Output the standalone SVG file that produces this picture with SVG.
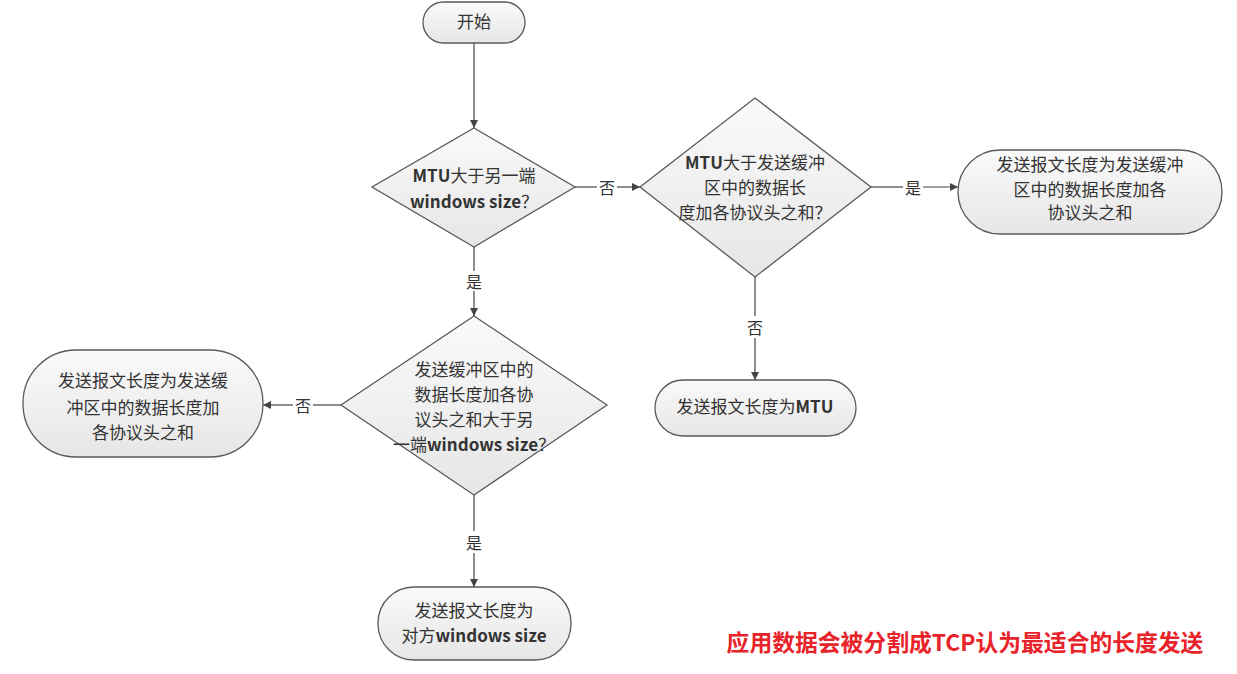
<svg xmlns="http://www.w3.org/2000/svg" width="1237" height="674" viewBox="0 0 1237 674">
<style>
.node{fill:url(#g);stroke:#5a5a5a;stroke-width:1.3}
.t{font-family:"Noto Sans CJK SC","Noto Sans",sans-serif;font-size:17px;fill:#333;text-anchor:middle}
.b{font-weight:bold}
.lbl{font-family:"Noto Sans CJK SC","Noto Sans",sans-serif;font-size:16px;fill:#333;text-anchor:middle;dominant-baseline:central}
.c{stroke:#444;stroke-width:1.2;fill:none}
</style>
<defs>
<linearGradient id="g" x1="0" y1="0" x2="0" y2="1">
<stop offset="0" stop-color="#fafafa"/>
<stop offset="1" stop-color="#e6e6e6"/>
</linearGradient>
<marker id="a" viewBox="0 0 10 10" refX="10" refY="5" markerWidth="8" markerHeight="8" markerUnits="userSpaceOnUse" orient="auto">
<path d="M0,0 L10,5 L0,10 z" fill="#444"/>
</marker>
</defs>
<rect width="1237" height="674" fill="#fff"/>
<g id="connectors">
<line class="c" x1="474" y1="43" x2="474" y2="128" marker-end="url(#a)"/>
<line class="c" x1="575" y1="187" x2="597" y2="187"/>
<line class="c" x1="617" y1="187" x2="640" y2="187" marker-end="url(#a)"/>
<text class="lbl" x="607" y="187">否</text>
<line class="c" x1="871" y1="187" x2="903" y2="187"/>
<line class="c" x1="923" y1="187" x2="958" y2="187" marker-end="url(#a)"/>
<text class="lbl" x="913" y="187">是</text>
<line class="c" x1="755" y1="277" x2="755" y2="316"/>
<line class="c" x1="755" y1="338" x2="755" y2="380" marker-end="url(#a)"/>
<text class="lbl" x="755" y="327">否</text>
<line class="c" x1="474" y1="247" x2="474" y2="271"/>
<line class="c" x1="474" y1="291" x2="474" y2="316" marker-end="url(#a)"/>
<text class="lbl" x="474" y="281">是</text>
<line class="c" x1="341" y1="405" x2="313" y2="405"/>
<line class="c" x1="293" y1="405" x2="263" y2="405" marker-end="url(#a)"/>
<text class="lbl" x="303" y="405">否</text>
<line class="c" x1="474" y1="495" x2="474" y2="531"/>
<line class="c" x1="474" y1="553" x2="474" y2="587" marker-end="url(#a)"/>
<text class="lbl" x="474" y="542">是</text>
</g>
<g id="start">
<rect class="node" x="423" y="2" width="102" height="41" rx="20.5"/>
<text class="t" x="474" y="28">开始</text>
</g>
<g id="d1">
<polygon class="node" points="474,128 575,187 474,247 372,187"/>
<text class="t" x="474" y="182"><tspan class="b">MTU</tspan>大于另一端</text>
<text class="t" x="474" y="208"><tspan class="b">windows size</tspan>？</text>
</g>
<g id="d2">
<polygon class="node" points="755,98 871,187 755,277 640,187"/>
<text class="t" x="755" y="169"><tspan class="b">MTU</tspan>大于发送缓冲</text>
<text class="t" x="755" y="194">区中的数据长</text>
<text class="t" x="755" y="219">度加各协议头之和？</text>
</g>
<g id="r1">
<rect class="node" x="958" y="150" width="264" height="84" rx="42"/>
<text class="t" x="1090" y="171">发送报文长度为发送缓冲</text>
<text class="t" x="1090" y="196">区中的数据长度加各</text>
<text class="t" x="1090" y="219">协议头之和</text>
</g>
<g id="r2">
<rect class="node" x="655" y="380" width="201" height="56" rx="28"/>
<text class="t" x="755" y="413">发送报文长度为<tspan class="b">MTU</tspan></text>
</g>
<g id="d3">
<polygon class="node" points="474,316 607,405 474,495 341,405"/>
<text class="t" x="474" y="376">发送缓冲区中的</text>
<text class="t" x="474" y="401">数据长度加各协</text>
<text class="t" x="474" y="426">议头之和大于另</text>
<text class="t" x="474" y="451">一端<tspan class="b">windows size</tspan>？</text>
</g>
<g id="r3">
<rect class="node" x="23" y="350" width="240" height="107" rx="53"/>
<text class="t" x="143" y="387">发送报文长度为发送缓</text>
<text class="t" x="143" y="414">冲区中的数据长度加</text>
<text class="t" x="143" y="439">各协议头之和</text>
</g>
<g id="r4">
<rect class="node" x="378" y="587" width="193" height="73" rx="36"/>
<text class="t" x="474" y="617">发送报文长度为</text>
<text class="t" x="474" y="642">对方<tspan class="b">windows size</tspan></text>
</g>
<text x="965" y="651" font-family="Noto Sans CJK SC, sans-serif" font-size="22.8" font-weight="bold" fill="#e8232a" text-anchor="middle">应用数据会被分割成TCP认为最适合的长度发送</text>
</svg>
